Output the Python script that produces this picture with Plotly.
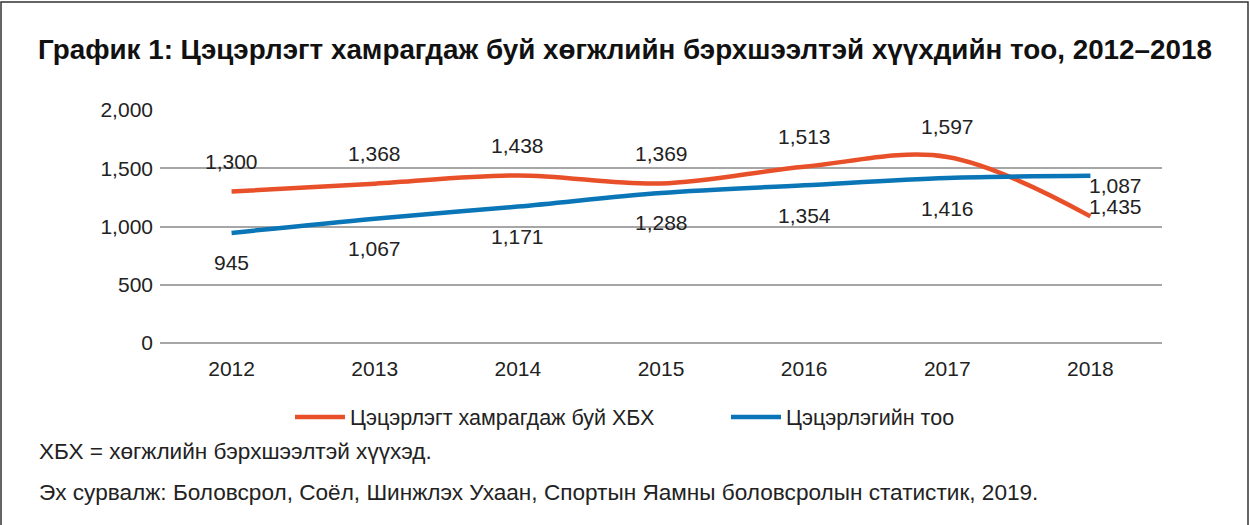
import plotly.graph_objects as go

years = ["2012", "2013", "2014", "2015", "2016", "2017", "2018"]
children = [1300, 1368, 1438, 1369, 1513, 1597, 1087]
kindergartens = [945, 1067, 1171, 1288, 1354, 1416, 1435]
child_labels = ["1,300", "1,368", "1,438", "1,369", "1,513", "1,597", "1,087"]
kg_labels = ["945", "1,067", "1,171", "1,288", "1,354", "1,416", "1,435"]
y_ticks = [0, 500, 1000, 1500, 2000]
y_ticktext = ["0", "500", "1,000", "1,500", "2,000"]

ORANGE = "#E8502A"
BLUE = "#0A76B7"
FONT = "Liberation Sans, Arial, sans-serif"
TXT = "#222222"

fig = go.Figure()
fig.add_trace(go.Scatter(x=years, y=children, mode="lines", name="Цэцэрлэгт хамрагдаж буй ХБХ",
                         line=dict(color=ORANGE, width=4.5, shape="spline", smoothing=1)))
fig.add_trace(go.Scatter(x=years, y=kindergartens, mode="lines", name="Цэцэрлэгийн тоо",
                         line=dict(color=BLUE, width=4.5, shape="spline", smoothing=1)))

anns = []
n = len(years)
for i in range(n):
    last = i == n - 1
    anns.append(dict(x=i, y=children[i], xref="x", yref="y", text=child_labels[i], showarrow=False,
                     xanchor="left" if last else "center", yanchor="middle",
                     xshift=-3 if last else 0, yshift=31 if last else 30,
                     font=dict(family=FONT, size=21, color=TXT)))
    anns.append(dict(x=i, y=kindergartens[i], xref="x", yref="y", text=kg_labels[i], showarrow=False,
                     xanchor="left" if last else "center", yanchor="middle",
                     xshift=-3 if last else 0, yshift=-31 if last else -30,
                     font=dict(family=FONT, size=21, color=TXT)))

# Title
anns.append(dict(xref="paper", yref="paper", x=(36 - 160) / 1002, y=(343 - 50) / 233,
                 xanchor="left", yanchor="middle", showarrow=False,
                 text="<b>График 1: Цэцэрлэгт хамрагдаж буй хөгжлийн бэрхшээлтэй хүүхдийн тоо, 2012–2018</b>",
                 font=dict(family=FONT, size=27.8, color="#111")))
# Notes
anns.append(dict(xref="paper", yref="paper", x=(37 - 160) / 1002, y=(343 - 451) / 233,
                 xanchor="left", yanchor="middle", showarrow=False,
                 text="ХБХ = хөгжлийн бэрхшээлтэй хүүхэд.",
                 font=dict(family=FONT, size=22.6, color=TXT)))
anns.append(dict(xref="paper", yref="paper", x=(37 - 160) / 1002, y=(343 - 492) / 233,
                 xanchor="left", yanchor="middle", showarrow=False,
                 text="Эх сурвалж: Боловсрол, Соёл, Шинжлэх Ухаан, Спортын Яамны боловсролын статистик, 2019.",
                 font=dict(family=FONT, size=22.6, color=TXT)))

fig.update_layout(
    width=1250, height=525,
    margin=dict(l=160, r=88, t=110, b=182),
    paper_bgcolor="white", plot_bgcolor="white",
    font=dict(family=FONT, size=21, color=TXT),
    showlegend=True,
    legend=dict(orientation="h", xref="container", yref="container",
                x=(290) / 1250, y=(525 - 417) / 525,
                xanchor="left", yanchor="middle", font=dict(family=FONT, size=21.5, color=TXT),
                itemwidth=50, entrywidth=371, entrywidthmode="pixels", bgcolor="rgba(0,0,0,0)"),
    annotations=anns,
    shapes=[dict(type="rect", xref="paper", yref="paper",
                 x0=(1 - 160) / 1002, x1=(1248 - 160) / 1002,
                 y0=(343 - 540) / 233, y1=(343 - 2) / 233,
                 line=dict(color="#333", width=1.5), fillcolor="rgba(0,0,0,0)", layer="below")],
)
fig.update_xaxes(range=[-0.5, 6.5], showgrid=False, showline=False,
                 ticks="", tickfont=dict(size=21), zeroline=False, ticklabelstandoff=11)
fig.update_yaxes(range=[0, 2000], tickvals=y_ticks, ticktext=y_ticktext, showgrid=True,
                 gridcolor="#A6A6A6", gridwidth=1.5, zeroline=True, zerolinecolor="#A6A6A6",
                 zerolinewidth=1.5, showline=False, ticks="", ticklabelstandoff=6,
                 tickfont=dict(size=21))

fig.write_html("out.html", config={"displayModeBar": False},
               post_script="document.body.style.margin='0';document.body.style.overflow='hidden';")
